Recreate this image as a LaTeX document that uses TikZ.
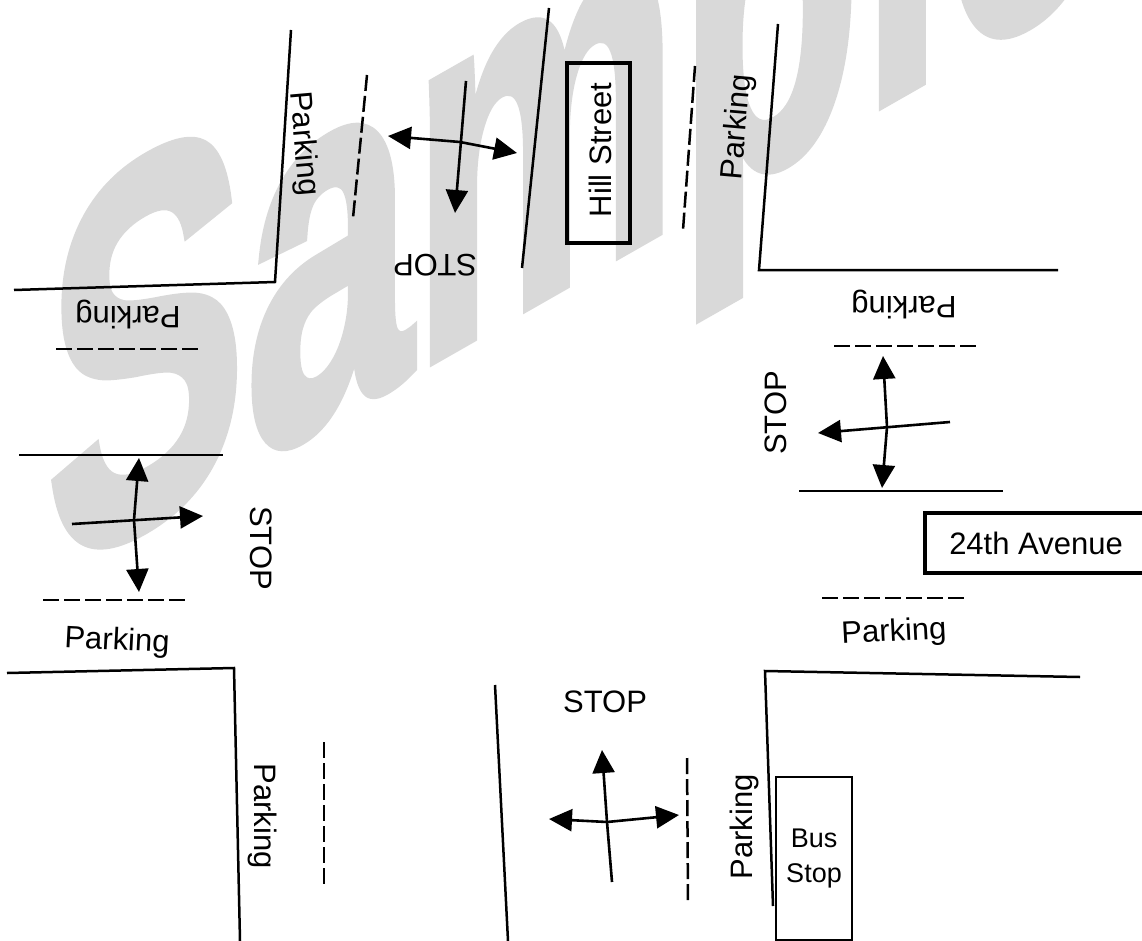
\documentclass[tikz,border=0pt]{standalone}
\usepackage{fontspec}
\setmainfont{Liberation Sans}
\newfontfamily\markfont[FakeBold=2]{Liberation Sans Bold}
\usetikzlibrary{arrows.meta}
\definecolor{markgray}{gray}{0.85}
\tikzset{
    curb/.style={line width=2.5pt},
    lane/.style={line width=2.5pt, dash pattern=on 16pt off 5pt},
    flow/.style={line width=2.6pt, -{Stealth[length=23pt,width=22pt,inset=0pt]}},
    twoway/.style={line width=2.6pt, {Stealth[length=23pt,width=22pt,inset=0pt]}-{Stealth[length=23pt,width=22pt,inset=0pt]}},
    lbl/.style={font=\fontsize{31}{31}\selectfont, inner sep=0pt}
}
\begin{document}
\begin{tikzpicture}[x=1pt, y=-1pt]
    \useasboundingbox (0,0) rectangle (1142,941);
    % watermark
    \begin{scope}
        \clip (0,0) rectangle (1142,941);
        \begin{scope}[shift={(46,581)}, yslant=0.57, xscale=0.57, transform shape]
            \node[text=markgray, font=\fontsize{525}{525}\markfont, inner sep=0pt, anchor=base west] (mark) at (0,0) {Sample};
        \end{scope}
    \end{scope}
    % north west corner
    \draw[curb] (14,290) -- (275,282) -- (291,30);
    \draw[lane] (367,75) -- (353,218);
    \draw[lane] (56,349) -- (200,349);
    \node[lbl, rotate=-85] (parkNW) at (303,144) {Parking};
    \node[lbl, rotate=180] (parkW) at (128,315) {Parking};
    % north approach
    \draw[curb] (549,8) -- (522,268);
    \draw[lane] (695,66) -- (683,230);
    \draw[line width=4.5pt] (567,63) rectangle (630,243);
    \node[lbl, rotate=90] (hill) at (600,150) {Hill Street};
    \draw[curb] (778,24) -- (759,270) -- (1058,270);
    \node[lbl, rotate=85] (parkN) at (738,127) {Parking};
    \node[lbl, rotate=180] (stopN) at (435,265) {STOP};
    \draw[flow] (466,81) -- (455,213);
    \draw[twoway] (388,136) -- (460,142) -- (517,153);
    % east approach
    \node[lbl, rotate=180] (parkE) at (904,305) {Parking};
    \draw[lane] (834,346) -- (980,346);
    \node[lbl, rotate=90] (stopE) at (776,413) {STOP};
    \draw[flow] (950,422) -- (818,433);
    \draw[twoway] (883,356) -- (887,427) -- (882,488);
    \draw[curb] (799,491) -- (1003,491);
    \draw[line width=4.5pt] (925,513) rectangle (1144,573);
    \node[lbl] (ave) at (1036,543) {24th Avenue};
    \draw[lane] (822,598) -- (967,598);
    \node[lbl, rotate=3] (parkSE) at (894,633) {Parking};
    % west approach
    \draw[curb] (19,455) -- (223,455);
    \draw[twoway] (139,458) -- (134,520) -- (139,592);
    \draw[flow] (72,524) -- (203,516);
    \node[lbl, rotate=-90] (stopW) at (261,548) {STOP};
    \draw[lane] (43,600) -- (188,600);
    \node[lbl, rotate=-3] (parkSW) at (117,642) {Parking};
    % south west corner
    \draw[curb] (7,673) -- (234,668) -- (240,941);
    \draw[lane] (324,742) -- (324,886);
    \node[lbl, rotate=-90] (parkS) at (263,816) {Parking};
    % south approach
    \draw[curb] (495,685) -- (508,941);
    \node[lbl] (stopS) at (605,702) {STOP};
    \draw[flow] (612,882) -- (607,822) -- (602,750);
    \draw[twoway] (549,819) -- (607,822) -- (679,815);
    \draw[lane] (687,758) -- (688,902);
    % south east corner
    \draw[curb] (1080,677) -- (765,671) -- (773,906);
    \node[lbl, rotate=90] (parkB) at (744,827) {Parking};
    \node[draw, line width=2.5pt, fill=white, minimum width=76pt, minimum height=163pt, inner sep=0pt, align=center, font=\fontsize{27}{35}\selectfont] (bus) at (814,858.5) {Bus\\Stop};
\end{tikzpicture}
\end{document}
